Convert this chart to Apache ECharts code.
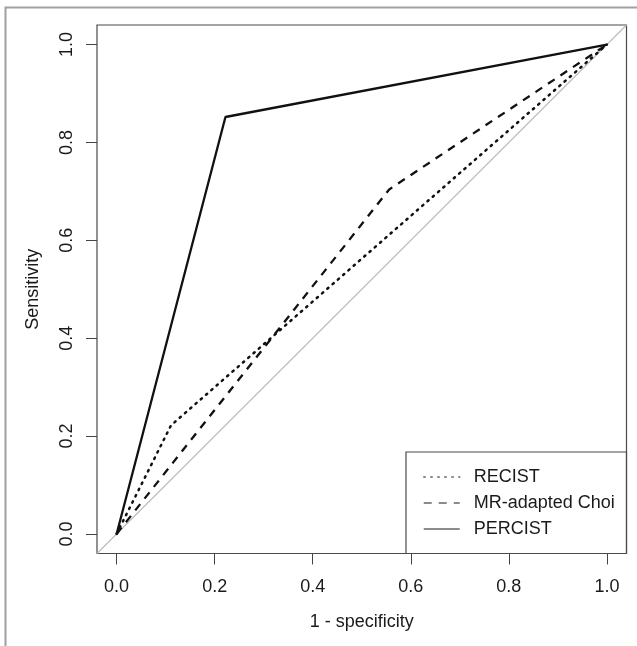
<!DOCTYPE html>
<html>
<head>
<meta charset="utf-8">
<style>
  html, body { margin: 0; padding: 0; background: #fff; }
  #chart { width: 637px; height: 646px; }
</style>
<script src="https://cdn.jsdelivr.net/npm/echarts@6/dist/echarts.min.js"></script>
</head>
<body>
<div id="chart"></div>
<script>
// ROC points: [1 - specificity, sensitivity]
var recist = [[0, 0], [0.111, 0.222], [1, 1]];
var choi = [[0, 0], [0.556, 0.704], [1, 1]];
var percist = [[0, 0], [0.222, 0.852], [1, 1]];
var diagonal = [[-0.04, -0.04], [1.04, 1.04]];

var tickValues = [0, 0.2, 0.4, 0.6, 0.8, 1.0];
var seriesNames = ['RECIST', 'MR-adapted Choi', 'PERCIST'];

var font = '"Liberation Sans", Arial, Helvetica, sans-serif';
var textColor = '#1a1a1a';

var chart = echarts.init(document.getElementById('chart'));

function axis(name, gap) {
    return {
        type: 'value',
        min: -0.04,
        max: 1.04,
        name: name,
        nameLocation: 'middle',
        nameGap: gap,
        nameTextStyle: { fontFamily: font, fontSize: 18, color: textColor },
        axisLine: { show: false, onZero: false },
        splitLine: { show: false },
        axisTick: {
            show: true,
            inside: false,
            length: 11,
            customValues: tickValues,
            lineStyle: { color: '#444', width: 1 }
        },
        axisLabel: {
            customValues: tickValues,
            fontFamily: font,
            fontSize: 18,
            color: textColor,
            formatter: function (v) { return v.toFixed(1); }
        }
    };
}

var xAxis = axis('1 - specificity', 60);
xAxis.axisLabel.margin = 25;

var yAxis = axis('Sensitivity', 55);
yAxis.axisLabel.rotate = 90;
yAxis.axisLabel.margin = 21;
yAxis.nameRotate = 90;

chart.setOption({
    animation: false,
    backgroundColor: '#fff',
    grid: {
        left: 97,
        top: 25,
        right: 10.5,
        bottom: 92.5,
        show: true,
        borderColor: '#4a4a4a',
        borderWidth: 1.2,
        containLabel: false
    },
    xAxis: xAxis,
    yAxis: yAxis,
    legend: {
        orient: 'vertical',
        left: 418,
        top: 463,
        itemWidth: 36,
        itemHeight: 14,
        itemGap: 8,
        data: seriesNames,
        itemStyle: { opacity: 0 },
        lineStyle: { color: '#666', width: 1.5 },
        textStyle: { fontFamily: font, fontSize: 18, color: textColor, padding: [0, 0, 0, 9] }
    },
    graphic: [
        {
            type: 'polyline',
            shape: { points: [[5.5, 646], [5.5, 7.5], [637, 7.5]] },
            style: { fill: null, stroke: '#a0a0a0', lineWidth: 2 },
            silent: true
        },
        {
            type: 'rect',
            shape: { x: 406, y: 452, width: 220.5, height: 101.5 },
            style: { fill: null, stroke: '#4a4a4a', lineWidth: 1.2 },
            silent: true,
            z: 10
        }
    ],
    series: [
        {
            type: 'line',
            data: diagonal,
            symbol: 'none',
            silent: true,
            lineStyle: { color: '#bdbdbd', width: 1.2 },
            z: 1
        },
        {
            name: 'RECIST',
            type: 'line',
            data: recist,
            symbol: 'none',
            lineStyle: { color: '#111', width: 2.5, type: [1.5, 5.5], cap: 'round' },
            z: 3
        },
        {
            name: 'MR-adapted Choi',
            type: 'line',
            data: choi,
            symbol: 'none',
            lineStyle: { color: '#111', width: 2.3, type: [8, 7] },
            z: 3
        },
        {
            name: 'PERCIST',
            type: 'line',
            data: percist,
            symbol: 'none',
            lineStyle: { color: '#111', width: 2.3 },
            z: 3
        }
    ]
});
</script>
</body>
</html>
